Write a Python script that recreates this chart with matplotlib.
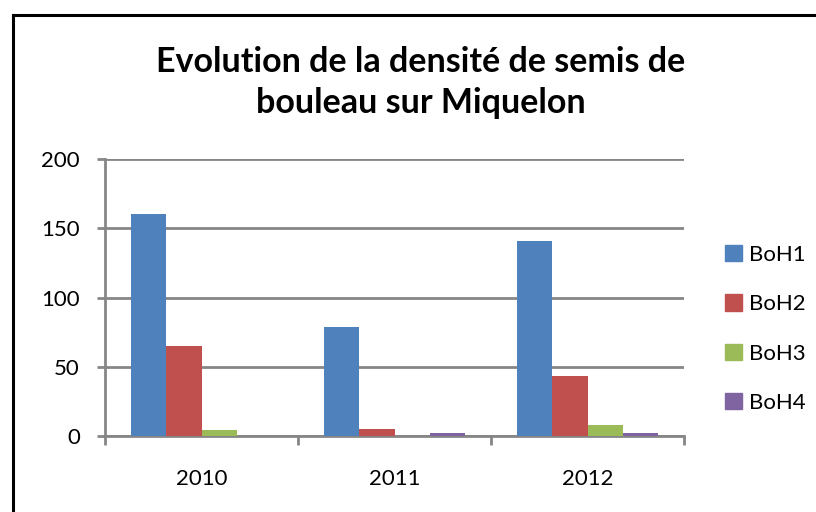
import matplotlib
matplotlib.use("Agg")
import matplotlib.pyplot as plt
import numpy as np
from matplotlib.patches import Rectangle
from matplotlib.lines import Line2D

categories = ["2010", "2011", "2012"]
series_names = ["BoH1", "BoH2", "BoH3", "BoH4"]
boh1 = [160, 79, 141]
boh2 = [65, 5, 43]
boh3 = [4, 0, 8]
boh4 = [0, 2, 2]
yticks = [0, 50, 100, 150, 200]
colors = ["#4F81BD", "#C0504D", "#9BBB59", "#8064A2"]

plt.rcParams['font.family'] = ['Lato', 'DejaVu Sans']

fig = plt.figure(figsize=(8.16, 5.12), dpi=100)
ax = fig.add_axes([105/816, 1-436/512, (684-105)/816, (436-159)/512])

x = np.arange(len(categories))
w = 1/5.5
data = [boh1, boh2, boh3, boh4]
for i, (vals, c, n) in enumerate(zip(data, colors, series_names)):
    ax.bar(x + (i - 1.5) * w, vals, width=w, color=c, label=n, zorder=3)

ax.set_xlim(-0.5, 2.5)
ax.set_ylim(0, 200)
ax.set_yticks(yticks)
ax.set_yticklabels([str(v) for v in yticks], fontsize=16)
ax.yaxis.grid(True, color="#868686", linewidth=2, zorder=0)
ax.set_xticks(x)
ax.set_xticklabels(categories, fontsize=16)
ax.tick_params(axis='x', length=0, pad=24)
ax.set_xticks([-0.5, 0.5, 1.5, 2.5], minor=True)
ax.tick_params(axis='x', which='minor', length=6.5, width=2, color="#868686", direction='out')
ax.tick_params(axis='y', length=6, width=2, color="#868686", direction='out', pad=12)
for s in ['top', 'right']:
    ax.spines[s].set_visible(False)
for s in ['left', 'bottom']:
    ax.spines[s].set_color("#868686")
    ax.spines[s].set_linewidth(2)

fig.text(421/816, 1-62/512, "Evolution de la densité de semis de", ha='center', va='center',
         fontsize=24.5, fontweight='bold')
fig.text(421/816, 1-103/512, "bouleau sur Miquelon", ha='center', va='center',
         fontsize=24.5, fontweight='bold')

handles = [Rectangle((0, 0), 1, 1, color=c) for c in colors]
fig.legend(handles, series_names, loc='upper left', bbox_to_anchor=(716/816, 1-236/512),
           frameon=False, fontsize=16, handlelength=0.75, handleheight=0.75,
           handletextpad=0.35, labelspacing=1.32, borderaxespad=0)

# chart border (cropped at right and bottom)
fig.add_artist(Line2D([12.5/816, 12.5/816], [0, 1-14.5/512], color='black', linewidth=2.2,
                      transform=fig.transFigure))
fig.add_artist(Line2D([12.5/816, 1], [1-14.5/512, 1-14.5/512], color='black', linewidth=2.2,
                      transform=fig.transFigure))

fig.savefig("out.png", dpi=100)
